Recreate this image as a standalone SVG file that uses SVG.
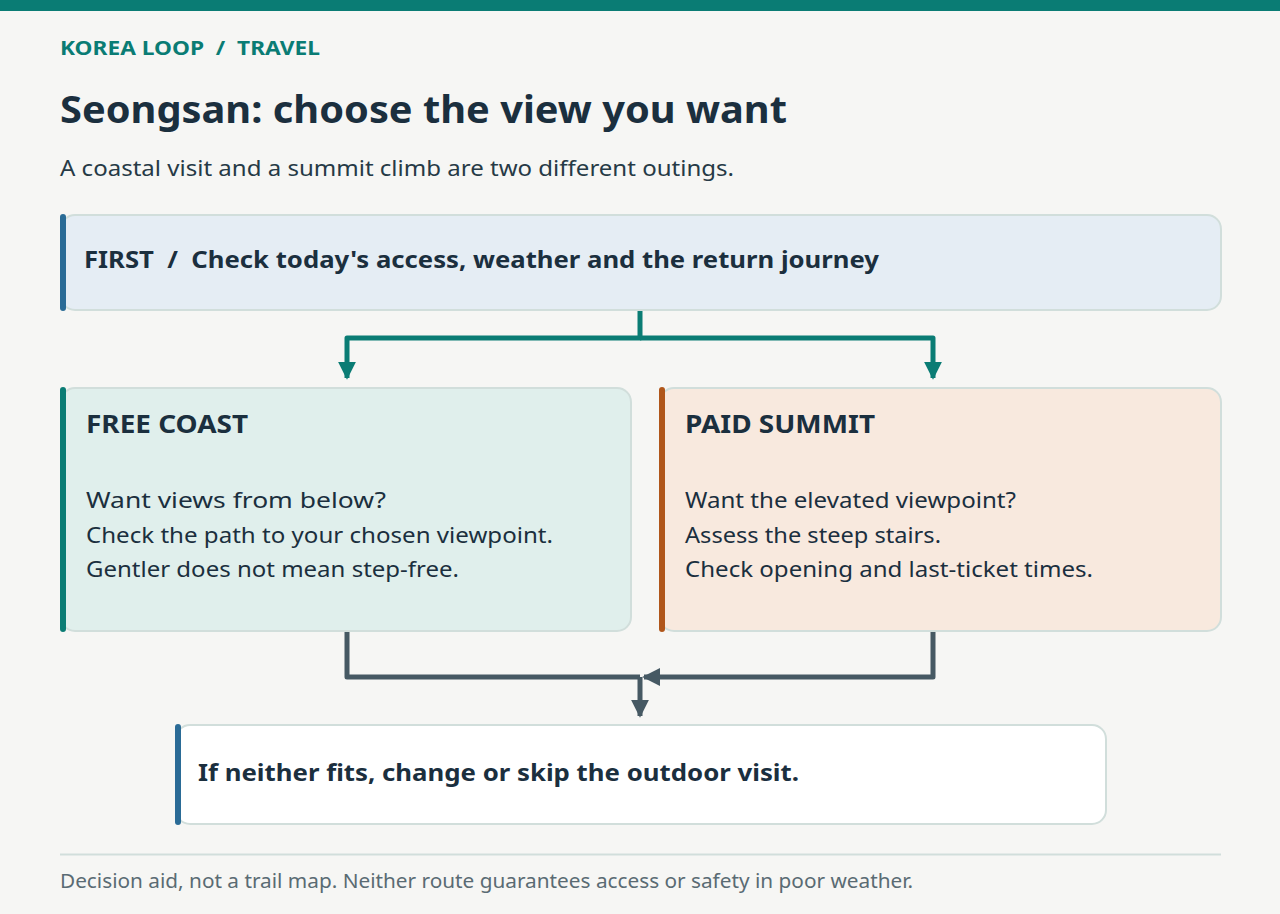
<svg xmlns="http://www.w3.org/2000/svg" width="1280" height="914" viewBox="0 0 1280 914">
<style>
text{font-family:"Noto Sans","Open Sans","DejaVu Sans",sans-serif;fill:#1b2f3e;white-space:pre}
.b{font-weight:700}
.box{stroke:#d1dedb;stroke-width:2}
.body{font-size:22.5px}
.tl{stroke:#0a7c74;stroke-width:5;fill:none;stroke-linejoin:round}
.gl{stroke:#465963;stroke-width:5;fill:none;stroke-linejoin:round}
</style>
<defs>
<marker id="at" viewBox="0 0 10 10" refX="9" refY="5" markerWidth="3.6" markerHeight="4" orient="auto" markerUnits="strokeWidth"><path d="M0,0L10,5L0,10z" fill="#0a7c74"/></marker>
<marker id="ag" viewBox="0 0 10 10" refX="9" refY="5" markerWidth="3.6" markerHeight="4" orient="auto" markerUnits="strokeWidth"><path d="M0,0L10,5L0,10z" fill="#465963"/></marker>
</defs>
<rect width="1280" height="914" fill="#f6f6f4"/>
<rect width="1280" height="11" fill="#0a7c74"/>
<g id="header">
<text x="60" y="55" class="b" font-size="20" style="fill:#0a7c74" textLength="260" lengthAdjust="spacingAndGlyphs" xml:space="preserve">KOREA LOOP  /  TRAVEL</text>
<text x="60" y="123" class="b" font-size="38" textLength="727" lengthAdjust="spacingAndGlyphs">Seongsan: choose the view you want</text>
<text x="60" y="176" font-size="22.5" style="fill:#263a46" textLength="674" lengthAdjust="spacingAndGlyphs">A coastal visit and a summit climb are two different outings.</text>
</g>
<g id="connectors">
<path class="tl" d="M640,310V338H347V378" marker-end="url(#at)"/>
<path class="tl" d="M640,338H933V378" marker-end="url(#at)"/>
<path class="gl" d="M347,631V677H640"/>
<path class="gl" d="M933,631V677H644" marker-end="url(#ag)"/>
<path class="gl" d="M640,677V716" marker-end="url(#ag)"/>
</g>
<g id="first">
<rect class="box" x="61" y="215" width="1160" height="95" rx="14" fill="#e5edf4"/>
<rect x="60" y="214" width="6" height="97" rx="3" fill="#2a6b96"/>
<text x="84" y="268" class="b" font-size="24" textLength="795" lengthAdjust="spacingAndGlyphs" xml:space="preserve">FIRST  /  Check today's access, weather and the return journey</text>
</g>
<g id="free-coast">
<rect class="box" x="61" y="388" width="570" height="243" rx="14" fill="#e0efec"/>
<rect x="60" y="387" width="6" height="245" rx="3" fill="#0a7c74"/>
<text x="86" y="433" class="b" font-size="25" textLength="162" lengthAdjust="spacingAndGlyphs">FREE COAST</text>
<text x="86" y="508" class="body" textLength="300" lengthAdjust="spacingAndGlyphs">Want views from below?</text>
<text x="86" y="543" class="body" textLength="467" lengthAdjust="spacingAndGlyphs">Check the path to your chosen viewpoint.</text>
<text x="86" y="577" class="body" textLength="373" lengthAdjust="spacingAndGlyphs">Gentler does not mean step-free.</text>
</g>
<g id="paid-summit">
<rect class="box" x="660" y="388" width="561" height="243" rx="14" fill="#f8e9de"/>
<rect x="659" y="387" width="6" height="245" rx="3" fill="#b0561a"/>
<text x="685" y="433" class="b" font-size="25" textLength="190" lengthAdjust="spacingAndGlyphs">PAID SUMMIT</text>
<text x="685" y="508" class="body" textLength="331" lengthAdjust="spacingAndGlyphs">Want the elevated viewpoint?</text>
<text x="685" y="543" class="body" textLength="256" lengthAdjust="spacingAndGlyphs">Assess the steep stairs.</text>
<text x="685" y="577" class="body" textLength="408" lengthAdjust="spacingAndGlyphs">Check opening and last-ticket times.</text>
</g>
<g id="fallback">
<rect class="box" x="176" y="725" width="930" height="99" rx="14" fill="#ffffff"/>
<rect x="175" y="724" width="6" height="101" rx="3" fill="#2a6b96"/>
<text x="198" y="781" class="b" font-size="24" textLength="601" lengthAdjust="spacingAndGlyphs">If neither fits, change or skip the outdoor visit.</text>
</g>
<g id="footer">
<line x1="60" y1="854.5" x2="1221" y2="854.5" stroke="#d1dedb" stroke-width="2"/>
<text x="60" y="888" font-size="19.5" style="fill:#5a6b73" textLength="853" lengthAdjust="spacingAndGlyphs">Decision aid, not a trail map. Neither route guarantees access or safety in poor weather.</text>
</g>
</svg>
